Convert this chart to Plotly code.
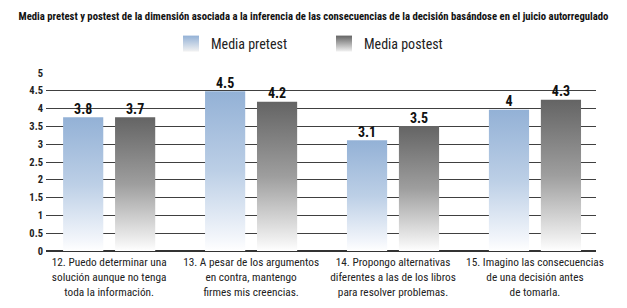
import plotly.graph_objects as go

# ---- data ----
categories = [
    "12. Puedo determinar una<br>solución aunque no tenga<br>toda la información.",
    "13. A pesar de los argumentos<br>en contra, mantengo<br>firmes mis creencias.",
    "14. Propongo alternativas<br>diferentes a las de los libros<br>para resolver problemas.",
    "15. Imagino las consecuencias<br>de una decisión antes<br>de tomarla.",
]
series_names = ["Media pretest", "Media postest"]
pretest_values = [3.76, 4.49, 3.11, 3.97]
postest_values = [3.76, 4.19, 3.51, 4.25]
pretest_labels = ["3.8", "4.5", "3.1", "4"]
postest_labels = ["3.7", "4.2", "3.5", "4.3"]
y_ticks = [0, 0.5, 1, 1.5, 2, 2.5, 3, 3.5, 4, 4.5, 5]
y_tick_text = ["0", "0.5", "1", "1.5", "2", "2.5", "3", "3.5", "4", "4.5", "5"]
title_text = ("Media pretest y postest de la dimensión asociada a la inferencia de las "
              "consecuencias de la decisión basándose en el juicio autorregulado")

# ---- style ----
FONT = "Roboto Condensed"
scales = [
    [[0, "#ffffff"], [0.08, "#f3f6fb"], [0.5, "#bccfe6"], [1, "#93b1d6"]],
    [[0, "#ffffff"], [0.08, "#eeeeee"], [0.5, "#9e9e9e"], [1, "#646464"]],
]
top_colors = ["#93b1d6", "#646464"]
offsets = [-0.183, 0.183]
width = 0.283

fig = go.Figure()
for s, (vals, labs) in enumerate([(pretest_values, pretest_labels),
                                  (postest_values, postest_labels)]):
    for i, v in enumerate(vals):
        xc = i + offsets[s]
        fig.add_trace(go.Scatter(
            x=[xc - width / 2, xc + width / 2], y=[v, v],
            mode="lines", line=dict(width=0, color=top_colors[s]),
            fill="tozeroy",
            fillgradient=dict(type="vertical", colorscale=scales[s], start=0, stop=v),
            showlegend=False, hoverinfo="skip",
        ))
    fig.add_trace(go.Scatter(
        x=[i + offsets[s] for i in range(len(vals))], y=vals,
        mode="text", text=labs, textposition="top center",
        textfont=dict(family=FONT, size=14, color="#111111", weight="bold"),
        showlegend=False, hoverinfo="skip",
    ))
    # legend entry
    fig.add_trace(go.Scatter(
        x=[None], y=[None], mode="markers", name=series_names[s],
        marker=dict(symbol="square", size=16, color=top_colors[s],
                    gradient=dict(type="vertical", color="#f2f2f2"),
                    line=dict(width=0)),
    ))

fig.update_layout(
    width=627, height=308,
    margin=dict(l=46, r=31, t=73, b=57),
    paper_bgcolor="white", plot_bgcolor="white",
    font=dict(family=FONT, color="#222222"),
    title=dict(text=title_text, x=0.5, xanchor="center", yref="container",
               y=1 - 16 / 308, yanchor="middle",
               font=dict(family=FONT, size=10.7, color="#111111", weight="bold")),
    legend=dict(orientation="h", xref="container", x=171 / 627, xanchor="left",
                yref="container", y=1 - 44 / 308, yanchor="middle",
                font=dict(family=FONT, size=14, color="#222222"),
                entrywidth=108, bgcolor="rgba(0,0,0,0)"),
    showlegend=True,
)
fig.update_xaxes(
    range=[-0.445, 3.43], tickvals=[0, 1, 2, 3], ticktext=categories,
    tickangle=0, automargin=False, ticklabelstandoff=3,
    showgrid=False, zeroline=False, showline=False, ticks="",
    tickfont=dict(family=FONT, size=11.3, color="#222222"),
)
fig.update_yaxes(
    range=[0, 5], tickvals=y_ticks, ticktext=y_tick_text, automargin=False,
    ticklabelstandoff=2,
    showgrid=True, gridcolor="#404040", gridwidth=1.2,
    zeroline=True, zerolinecolor="#333333", zerolinewidth=2,
    showline=False, ticks="",
    tickfont=dict(family=FONT, size=10.5, color="#222222", weight="bold"),
)

fig.write_html("out.html", config={"displayModeBar": False},
               post_script="document.body.style.margin='0';")
